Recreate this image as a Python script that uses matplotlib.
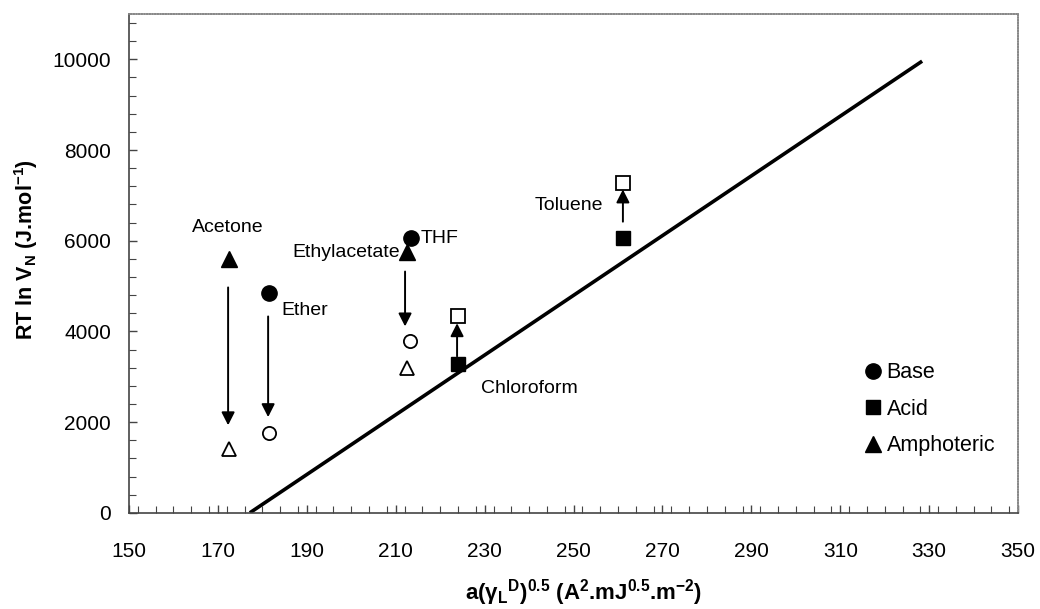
import matplotlib
matplotlib.use("Agg")
import matplotlib.pyplot as plt
from matplotlib.ticker import MultipleLocator

plt.rcParams['font.family'] = ['Liberation Sans', 'DejaVu Sans']
plt.rcParams['mathtext.fontset'] = 'custom'
plt.rcParams['mathtext.rm'] = 'Liberation Sans'
plt.rcParams['mathtext.it'] = 'Liberation Sans'
plt.rcParams['mathtext.bf'] = 'Liberation Sans:bold'
plt.rcParams['mathtext.default'] = 'regular'

# ---- data ----
# filled = measured, open = corrected values
base_x = [181.5, 213.4]          # Ether, THF
base_y = [4850, 6050]
base_open_x = [181.5, 213.2]
base_open_y = [1750, 3780]

acid_x = [224.0, 261.1]          # Chloroform, Toluene
acid_y = [3280, 6070]
acid_open_x = [224.0, 261.1]
acid_open_y = [4330, 7280]

amph_x = [172.5, 212.5]          # Acetone, Ethylacetate
amph_y = [5600, 5750]
amph_open_x = [172.5, 212.5]
amph_open_y = [1400, 3200]

# reference line (n-alkanes)
line_x = [177.2, 328.4]
line_y = [0, 9960]

# arrows
arrow_x = [172.3, 181.3, 212.1, 223.8, 261.1]
arrow_y0 = [4970, 4330, 5320, 3450, 6420]
arrow_y1 = [1930, 2110, 4110, 4180, 7130]

labels = ["Acetone", "Ether", "Ethylacetate", "THF", "Chloroform", "Toluene"]
label_x = [172.3, 184.3, 211.0, 215.5, 229.2, 256.6]
label_y = [6290, 4460, 5750, 6050, 2750, 6770]
label_ha = ["center", "left", "right", "left", "left", "right"]

legend_names = ["Base", "Acid", "Amphoteric"]

xticks = [150, 170, 190, 210, 230, 250, 270, 290, 310, 330, 350]
yticks = [0, 2000, 4000, 6000, 8000, 10000]

# ---- figure ----
fig = plt.figure(figsize=(10.4, 6.09), dpi=100)
ax = fig.add_axes([0.124, 0.158, 0.855, 0.819])

ax.plot(line_x, line_y, color='black', lw=2.6, solid_capstyle='butt', zorder=2)

ms = 11
h_base, = ax.plot(base_x, base_y, 'o', color='black', ms=ms, ls='none', zorder=4)
h_acid, = ax.plot(acid_x, acid_y, 's', color='black', ms=ms - 1, ls='none', zorder=4)
h_amph, = ax.plot(amph_x, amph_y, '^', color='black', ms=ms, ls='none', zorder=4)

ax.plot(base_open_x, base_open_y, 'o', mfc='white', mec='black', mew=1.3, ms=ms - 1.5, ls='none', zorder=4)
ax.plot(acid_open_x, acid_open_y, 's', mfc='white', mec='black', mew=1.3, ms=ms - 1, ls='none', zorder=4)
ax.plot(amph_open_x, amph_open_y, '^', mfc='white', mec='black', mew=1.3, ms=ms - 0.5, ls='none', zorder=4)

for x, y0, y1 in zip(arrow_x, arrow_y0, arrow_y1):
    ax.annotate("", xy=(x, y1), xytext=(x, y0),
                arrowprops=dict(arrowstyle='-|>,head_length=0.65,head_width=0.33',
                                color='black', lw=1.4,
                                mutation_scale=12, shrinkA=0, shrinkB=0),
                zorder=3)

for t, x, y, ha in zip(labels, label_x, label_y, label_ha):
    ax.text(x, y, t, ha=ha, va='center', fontsize=14)

ax.set_xlim(150, 350)
ax.set_ylim(0, 11000)
ax.set_xticks(xticks)
ax.set_yticks(yticks)
ax.xaxis.set_minor_locator(MultipleLocator(4))
ax.yaxis.set_minor_locator(MultipleLocator(400))
ax.tick_params(axis='both', which='both', direction='in', color='#444444', labelsize=15)
ax.tick_params(which='major', length=6, width=1)
ax.tick_params(which='minor', length=5, width=0.8)
ax.tick_params(axis='x', which='both', pad=21)
ax.tick_params(axis='y', which='both', pad=13)

for s in ['left', 'bottom']:
    ax.spines[s].set_color('#444444')
    ax.spines[s].set_linewidth(1.2)
for s in ['top', 'right']:
    ax.spines[s].set_color('#888888')
    ax.spines[s].set_linewidth(1.2)
    ax.spines[s].set_linestyle((0, (1, 0.6)))

ax.set_xlabel(r'a($\gamma_L{}^D$)$^{0.5}$ (A$^2$.mJ$^{0.5}$.m$^{-2}$)',
              fontsize=16, fontweight='bold')
ax.xaxis.set_label_coords(0.511, -0.128)
ax.set_ylabel(r'RT ln V$_N$ (J.mol$^{-1}$)', fontsize=15.5, fontweight='bold')
ax.yaxis.set_label_coords(-0.10, 0.527)

leg = ax.legend([h_base, h_acid, h_amph], legend_names, loc='upper left',
                bbox_to_anchor=(0.828, 0.302), frameon=False, fontsize=15.5,
                handlelength=0.7, handletextpad=0.3, labelspacing=0.72,
                borderpad=0, borderaxespad=0, numpoints=1)

fig.savefig("out.png", dpi=100)
